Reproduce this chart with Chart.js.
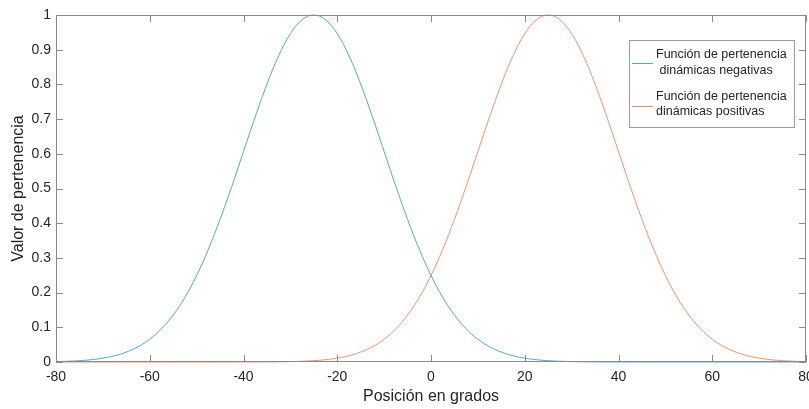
<!DOCTYPE html>
<html>
<head>
<meta charset="utf-8">
<script src="https://cdn.jsdelivr.net/npm/chart.js@4.4.1/dist/chart.umd.min.js"></script>
<style>
  html, body { margin: 0; padding: 0; background: #fff; }
  #wrap { width: 809px; height: 409px; }
</style>
</head>
<body>
<div id="wrap"><canvas id="c" width="809" height="409"></canvas></div>
<script>
// ── data ──
const positions = [
  -80, -77.5, -75, -72.5, -70, -67.5, -65, -62.5, -60, -57.5, -55, -52.5, -50,
  -47.5, -45, -42.5, -40, -37.5, -35, -32.5, -30, -27.5, -25, -22.5, -20,
  -17.5, -15, -12.5, -10, -7.5, -5, -2.5, 0, 2.5, 5, 7.5, 10, 12.5, 15,
  17.5, 20, 22.5, 25, 27.5, 30, 32.5, 35, 37.5, 40, 42.5, 45, 47.5, 50,
  52.5, 55, 57.5, 60, 62.5, 65, 67.5, 70, 72.5, 75, 77.5, 80
];
const negativas = [
  0.0012, 0.0022, 0.0039, 0.0066, 0.0111, 0.0181, 0.0286, 0.0439, 0.0657, 0.0956,
  0.1353, 0.1862, 0.2494, 0.3247, 0.4111, 0.5063, 0.6065, 0.7066, 0.8007, 0.8825,
  0.9460, 0.9862, 1.0000, 0.9862, 0.9460, 0.8825, 0.8007, 0.7066, 0.6065, 0.5063,
  0.4111, 0.3247, 0.2494, 0.1862, 0.1353, 0.0956, 0.0657, 0.0439, 0.0286, 0.0181,
  0.0111, 0.0066, 0.0039, 0.0022, 0.0012, 0.0006, 0.0003, 0.0002, 0.0001, 0,
  0, 0, 0, 0, 0, 0, 0, 0, 0, 0, 0, 0, 0, 0, 0
];
const positivas = [
  0, 0, 0, 0, 0, 0, 0, 0, 0, 0, 0, 0, 0, 0, 0, 0, 0.0001,
  0.0002, 0.0003, 0.0006, 0.0012, 0.0022, 0.0039, 0.0066, 0.0111, 0.0181, 0.0286,
  0.0439, 0.0657, 0.0956, 0.1353, 0.1862, 0.2494, 0.3247, 0.4111, 0.5063, 0.6065,
  0.7066, 0.8007, 0.8825, 0.9460, 0.9862, 1.0000, 0.9862, 0.9460, 0.8825, 0.8007,
  0.7066, 0.6065, 0.5063, 0.4111, 0.3247, 0.2494, 0.1862, 0.1353, 0.0956, 0.0657,
  0.0439, 0.0286, 0.0181, 0.0111, 0.0066, 0.0039, 0.0022, 0.0012
];
const xTicks = [-80, -60, -40, -20, 0, 20, 40, 60, 80];
const xTickLabels = ['-80', '-60', '-40', '-20', '0', '20', '40', '60', '80'];
const yTicks = [0, 0.1, 0.2, 0.3, 0.4, 0.5, 0.6, 0.7, 0.8, 0.9, 1];
const yTickLabels = ['0', '0.1', '0.2', '0.3', '0.4', '0.5', '0.6', '0.7', '0.8', '0.9', '1'];
const seriesNames = [
  ['Función de pertenencia', ' dinámicas negativas'],
  ['Función de pertenencia', 'dinámicas positivas']
];

const FONT = "'Liberation Sans', Arial, sans-serif";
const TEXT = '#262626';
const AXIS = '#8a8a8a';
const BLUE = '#55a2d9';
const ORANGE = '#ec9170';

// box round the plot + inward ticks on all four sides (MATLAB look)
const boxPlugin = {
  id: 'box',
  afterDatasetsDraw(chart) {
    const { ctx, chartArea: a, scales } = chart;
    const len = 7;
    ctx.save();
    ctx.strokeStyle = AXIS;
    ctx.lineWidth = 1;
    ctx.strokeRect(a.left + 0.5, a.top + 0.5, a.right - a.left - 1, a.bottom - a.top - 1);
    ctx.beginPath();
    xTicks.forEach(v => {
      const x = Math.round(scales.x.getPixelForValue(v)) + 0.5;
      ctx.moveTo(x, a.bottom); ctx.lineTo(x, a.bottom - len);
      ctx.moveTo(x, a.top); ctx.lineTo(x, a.top + len);
    });
    yTicks.forEach(v => {
      const y = Math.round(scales.y.getPixelForValue(v)) + 0.5;
      ctx.moveTo(a.left, y); ctx.lineTo(a.left + len, y);
      ctx.moveTo(a.right, y); ctx.lineTo(a.right - len, y);
    });
    ctx.stroke();
    ctx.restore();
  }
};

// legend drawn by hand: two-line labels inside a framed box
const legendPlugin = {
  id: 'mlegend',
  afterDraw(chart) {
    const { ctx } = chart;
    const bx = 629, by = 40, bw = 165, bh = 87;
    ctx.save();
    ctx.fillStyle = '#fff';
    ctx.fillRect(bx, by, bw, bh);
    ctx.strokeStyle = '#9a9a9a';
    ctx.lineWidth = 1;
    ctx.strokeRect(bx + 0.5, by + 0.5, bw, bh);
    ctx.font = '12.5px ' + FONT;
    ctx.textBaseline = 'middle';
    ctx.fillStyle = TEXT;
    const rows = [[55, 71, 63], [97, 112, 106]];
    chart.data.datasets.forEach((ds, i) => {
      const [y1, y2, ly] = rows[i];
      ctx.strokeStyle = ds.borderColor;
      ctx.beginPath();
      ctx.moveTo(632, ly + 0.5);
      ctx.lineTo(653, ly + 0.5);
      ctx.stroke();
      ctx.fillText(ds.label[0], 656, y1);
      ctx.fillText(ds.label[1], 656, y2);
    });
    ctx.restore();
  }
};

new Chart(document.getElementById('c'), {
  type: 'line',
  data: {
    labels: positions,
    datasets: [
      { label: seriesNames[0], data: negativas, borderColor: BLUE, borderWidth: 1, pointRadius: 0, tension: 0.4, clip: 3 },
      { label: seriesNames[1], data: positivas, borderColor: ORANGE, borderWidth: 1, pointRadius: 0, tension: 0.4, clip: 3 }
    ].map(d => ({ ...d, data: d.data.map((v, i) => ({ x: positions[i], y: v })) }))
  },
  options: {
    responsive: false,
    animation: false,
    layout: { padding: { top: 15, right: 3, left: 0, bottom: 0 } },
    plugins: { legend: { display: false }, tooltip: { enabled: false } },
    scales: {
      x: {
        type: 'linear', min: -80, max: 80,
        grid: { display: false, drawTicks: false },
        border: { display: false },
        afterBuildTicks: s => { s.ticks = xTicks.map(v => ({ value: v })); },
        afterFit: s => { s.height = 47; s.paddingLeft = 0; s.paddingRight = 0; },
        ticks: {
          autoSkip: false, maxRotation: 0, padding: 7, color: TEXT,
          font: { family: FONT, size: 14 },
          callback: v => xTickLabels[xTicks.indexOf(v)]
        },
        title: { display: true, text: 'Posición en grados', color: TEXT, font: { family: FONT, size: 16 }, padding: { bottom: 3 } }
      },
      y: {
        type: 'linear', min: 0, max: 1,
        grid: { display: false, drawTicks: false },
        border: { display: false },
        afterBuildTicks: s => { s.ticks = yTicks.map(v => ({ value: v })); },
        afterFit: s => { s.width = 56; s.paddingTop = 0; s.paddingBottom = 0; },
        ticks: {
          autoSkip: false, padding: 5, color: TEXT,
          font: { family: FONT, size: 14 },
          callback: v => yTickLabels[yTicks.findIndex(t => Math.abs(t - v) < 1e-9)]
        },
        title: { display: true, text: 'Valor de pertenencia', color: TEXT, font: { family: FONT, size: 16 }, padding: { top: 9 } }
      }
    }
  },
  plugins: [boxPlugin, legendPlugin]
});
</script>
</body>
</html>
